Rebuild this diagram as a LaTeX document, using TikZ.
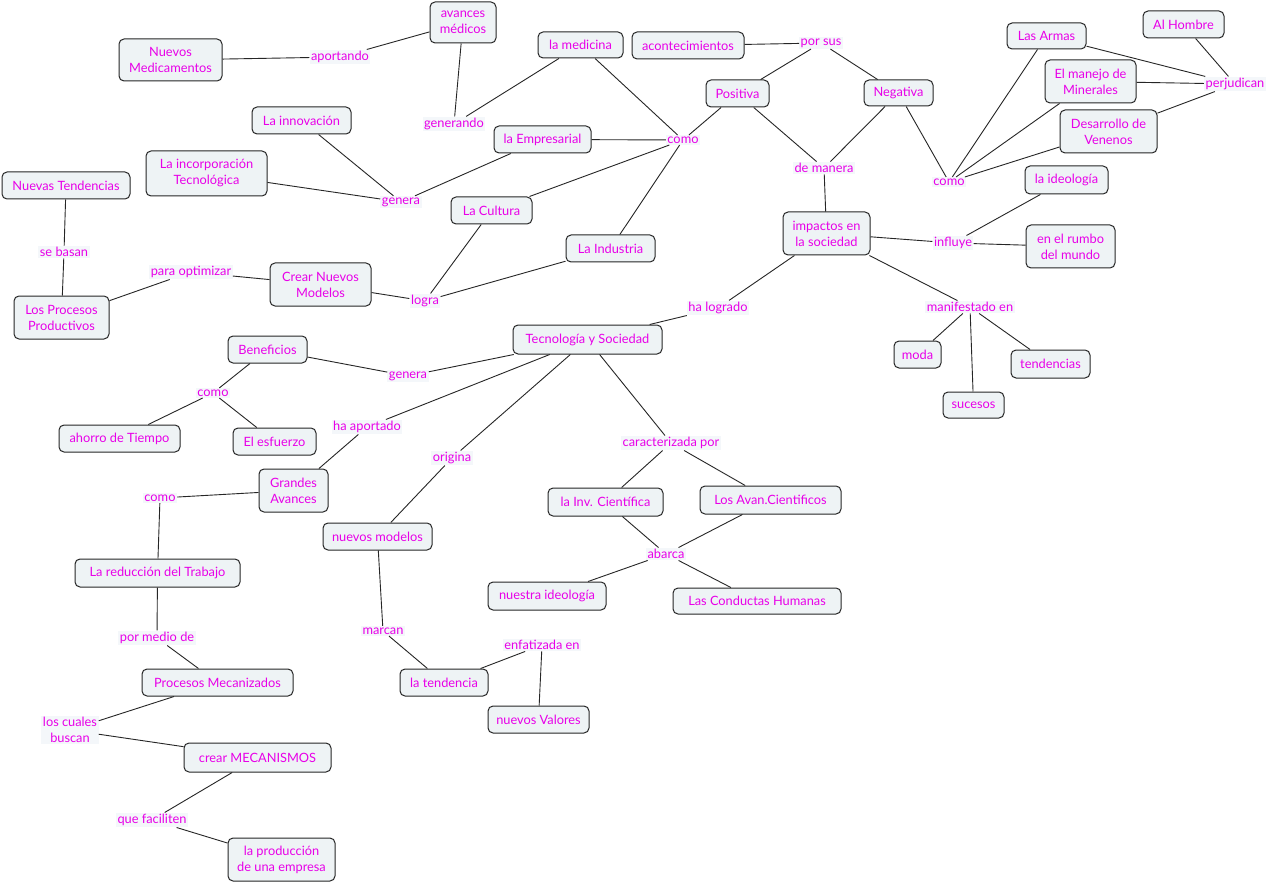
\documentclass[tikz,border=0pt]{standalone}
\usepackage{fontspec}
\setmainfont{Lato}
\definecolor{txt}{RGB}{232,0,232}
\definecolor{cfill}{RGB}{238,243,245}
\definecolor{lfill}{RGB}{244,247,250}
\newcommand\cpt[6]{\node[concept, minimum width={(#4-#2)*1pt}, minimum height={(#5-#3)*1pt}] (#1) at ({(#2+#4)/2},{(#3+#5)/2}) {#6};}
\newcommand\lnk[4]{\node[linkph] (#1) at (#2,#3) {#4};}
\begin{document}
\begin{tikzpicture}[x=1pt,y=-1pt,
  every node/.style={font=\fontsize{12.8}{16}\selectfont, text=txt, align=center},
  concept/.style={draw=black!85, line width=1pt, rounded corners=5pt, fill=cfill, inner sep=1pt},
  linkph/.style={fill=lfill, inner sep=1.5pt},
  conn/.style={draw=black!85, line width=0.9pt}]
\useasboundingbox[fill=white] (0,0) rectangle (1271,885);
% concepts
\cpt{avm}{430}{2}{496}{43}{avances\\médicos}
\cpt{nmed}{119}{39}{222}{81}{Nuevos\\Medicamentos}
\cpt{medi}{538}{32}{623}{58}{la medicina}
\cpt{acon}{632}{32}{744}{59}{acontecimientos}
\cpt{posi}{706}{80}{769}{107}{Positiva}
\cpt{nega}{864}{80}{933}{106}{Negativa}
\cpt{armas}{1007}{23}{1086}{49}{Las Armas}
\cpt{hombre}{1143}{11}{1224}{38}{Al Hombre}
\cpt{miner}{1045}{60}{1136}{103}{El manejo de\\Minerales}
\cpt{venen}{1060}{110}{1157}{153}{Desarrollo de\\Venenos}
\cpt{innov}{252}{107}{351}{134}{La innovación}
\cpt{empre}{494}{126}{591}{153}{la Empresarial}
\cpt{incor}{146}{151}{267}{196}{La incorporación\\Tecnológica}
\cpt{ntend}{2}{172}{130}{199}{Nuevas Tendencias}
\cpt{cult}{451}{197}{532}{224}{La Cultura}
\cpt{ideo}{1025}{166}{1108}{194}{la ideología}
\cpt{impac}{783}{212}{870}{255}{impactos en\\la sociedad}
\cpt{rumbo}{1026}{225}{1115}{268}{en el rumbo\\del mundo}
\cpt{indus}{566}{235}{655}{262}{La Industria}
\cpt{crear}{270}{263}{371}{306}{Crear Nuevos\\Modelos}
\cpt{proc}{14}{296}{109}{339}{Los Procesos\\Productivos}
\cpt{tys}{513}{325}{662}{354}{Tecnología y Sociedad}
\cpt{bene}{228}{336}{307}{363}{Beneficios}
\cpt{moda}{894}{341}{941}{368}{moda}
\cpt{tende}{1011}{350}{1090}{378}{tendencias}
\cpt{suce}{943}{392}{1004}{418}{sucesos}
\cpt{ahorro}{59}{425}{180}{452}{ahorro de Tiempo}
\cpt{esfu}{233}{428}{316}{455}{El esfuerzo}
\cpt{grand}{259}{469}{328}{512}{Grandes\\Avances}
\cpt{inv}{548}{488}{663}{516}{la Inv. Científica}
\cpt{avan}{700}{486}{841}{514}{Los Avan.Cientificos}
\cpt{nmod}{323}{523}{432}{550}{nuevos modelos}
\cpt{redu}{75}{559}{240}{587}{La reducción del Trabajo}
\cpt{nideo}{488}{582}{606}{610}{nuestra ideología}
\cpt{cond}{673}{588}{841}{614}{Las Conductas Humanas}
\cpt{pmec}{142}{669}{293}{696}{Procesos Mecanizados}
\cpt{ltend}{400}{669}{488}{696}{la tendencia}
\cpt{nval}{488}{706}{589}{733}{nuevos Valores}
\cpt{mecan}{184}{743}{331}{772}{crear MECANISMOS}
\cpt{produ}{228}{838}{335}{881}{la producción\\de una empresa}
% linking phrases
\lnk{aport}{340}{57}{aportando}
\lnk{gener}{454}{124}{generando}
\lnk{como1}{683}{140}{como}
\lnk{porsus}{821}{43}{por sus}
\lnk{demanera}{824}{168}{de manera}
\lnk{como2}{949}{182}{como}
\lnk{perj}{1235}{84}{perjudican}
\lnk{genera1}{401}{202}{genera}
\lnk{sebasan}{64}{252}{se basan}
\lnk{paraopt}{191}{272}{para optimizar}
\lnk{logra}{425}{301}{logra}
\lnk{influye}{953}{243}{influye}
\lnk{halog}{718}{308}{ha logrado}
\lnk{manif}{970}{307}{manifestado en}
\lnk{genera2}{408}{376}{genera}
\lnk{como3}{213}{393}{como}
\lnk{haaport}{367}{427}{ha aportado}
\lnk{origina}{452}{458}{origina}
\lnk{caract}{671}{443}{caracterizada por}
\lnk{como4}{160}{498}{como}
\lnk{abarca}{666}{554}{abarca}
\lnk{marcan}{383}{631}{marcan}
\lnk{pormedio}{157}{638}{por medio de}
\lnk{enfat}{542}{645}{enfatizada en}
\lnk{loscuales}{70}{730}{los cuales\\buscan}
\lnk{quefac}{152}{820}{que faciliten}
% connectors
\begin{scope}[every path/.style={conn}]
\draw (nmed) -- (aport); \draw (aport) -- (avm);
\draw (avm) -- (gener); \draw (gener) -- (medi);
\draw (medi) -- (como1); \draw (empre) -- (como1);
\draw (como1) -- (cult); \draw (como1) -- (indus);
\draw (posi) -- (como1);
\draw (acon) -- (porsus); \draw (porsus) -- (posi); \draw (porsus) -- (nega);
\draw (posi) -- (demanera); \draw (nega) -- (demanera); \draw (demanera) -- (impac);
\draw (nega) -- (como2); \draw (como2) -- (armas); \draw (como2) -- (miner); \draw (como2) -- (venen);
\draw (armas) -- (perj); \draw (miner) -- (perj); \draw (venen) -- (perj); \draw (hombre) -- (perj);
\draw (innov) -- (genera1); \draw (incor) -- (genera1); \draw (genera1) -- (empre);
\draw (ntend) -- (sebasan); \draw (sebasan) -- (proc);
\draw (proc) -- (paraopt); \draw (paraopt) -- (crear);
\draw (crear) -- (logra); \draw (cult) -- (logra); \draw (logra) -- (indus);
\draw (impac) -- (influye); \draw (influye) -- (ideo); \draw (influye) -- (rumbo);
\draw (impac) -- (manif); \draw (impac) -- (halog); \draw (halog) -- (tys);
\draw (manif) -- (moda); \draw (manif) -- (suce); \draw (manif) -- (tende);
\draw (bene) -- (genera2); \draw (genera2) -- (tys);
\draw (bene) -- (como3); \draw (como3) -- (ahorro); \draw (como3) -- (esfu);
\draw (tys) -- (haaport); \draw (haaport) -- (grand);
\draw (tys) -- (origina); \draw (origina) -- (nmod);
\draw (tys) -- (caract); \draw (caract) -- (inv); \draw (caract) -- (avan);
\draw (grand) -- (como4); \draw (como4) -- (redu);
\draw (inv) -- (abarca); \draw (avan) -- (abarca); \draw (abarca) -- (nideo); \draw (abarca) -- (cond);
\draw (nmod) -- (marcan); \draw (marcan) -- (ltend);
\draw (ltend) -- (enfat); \draw (enfat) -- (nval);
\draw (redu) -- (pormedio); \draw (pormedio) -- (pmec);
\draw (pmec) -- (loscuales); \draw (loscuales) -- (mecan);
\draw (mecan) -- (quefac); \draw (quefac) -- (produ);
\end{scope}
\end{tikzpicture}
\end{document}
